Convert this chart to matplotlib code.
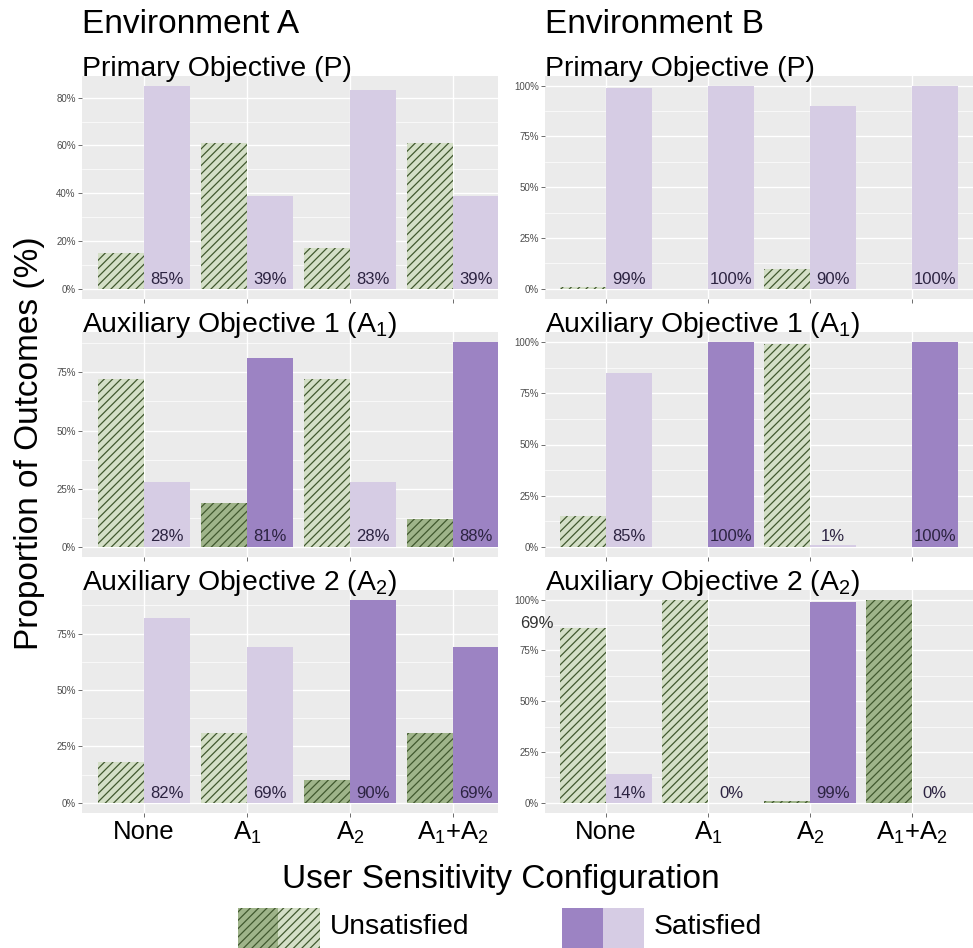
import matplotlib
matplotlib.use("Agg")
import matplotlib.pyplot as plt
from matplotlib.ticker import MultipleLocator, FuncFormatter
from matplotlib.patches import Rectangle

plt.rcParams['font.family'] = ['Liberation Sans', 'DejaVu Sans']
plt.rcParams['mathtext.default'] = 'regular'
plt.rcParams['hatch.linewidth'] = 0.9

# ---------------- data ----------------
configs = ['None', 'A1', 'A2', 'A1+A2']
config_labels = ['None', 'A$_1$', 'A$_2$', 'A$_1$+A$_2$']
objectives = ['P', 'A1', 'A2']
objective_titles = ['Primary Objective (P)', 'Auxiliary Objective 1 (A$_1$)',
                    'Auxiliary Objective 2 (A$_2$)']
environments = ['Environment A', 'Environment B']

envA_P_unsat = [15, 61, 17, 61]
envA_P_sat = [85, 39, 83, 39]
envA_A1_unsat = [72, 19, 72, 12]
envA_A1_sat = [28, 81, 28, 88]
envA_A2_unsat = [18, 31, 10, 31]
envA_A2_sat = [82, 69, 90, 69]

envB_P_unsat = [1, 0, 10, 0]
envB_P_sat = [99, 100, 90, 100]
envB_A1_unsat = [15, 0, 99, 0]
envB_A1_sat = [85, 100, 1, 100]
envB_A2_unsat = [86, 100, 1, 100]
envB_A2_sat = [14, 0, 99, 0]

legend_labels = ['Unsatisfied', 'Satisfied']
stray_label = '69%'

panels = {
    ('Environment A', 'P'): (envA_P_unsat, envA_P_sat),
    ('Environment A', 'A1'): (envA_A1_unsat, envA_A1_sat),
    ('Environment A', 'A2'): (envA_A2_unsat, envA_A2_sat),
    ('Environment B', 'P'): (envB_P_unsat, envB_P_sat),
    ('Environment B', 'A1'): (envB_A1_unsat, envB_A1_sat),
    ('Environment B', 'A2'): (envB_A2_unsat, envB_A2_sat),
}

# ---------------- style ----------------
GREEN_LIGHT = '#d4dfc7'
GREEN_DARK = '#9fb48a'
HATCH_COL = '#41592f'
PURPLE_LIGHT = '#d6cce4'
PURPLE_DARK = '#9c83c3'
LABEL_COL = '#2c2341'
PANEL_BG = '#ebebeb'
HATCH = '////'

W, H = 973, 948
fig = plt.figure(figsize=(W / 100, H / 100), dpi=100)

cols_px = [(82, 498, (0.398, 4.437)), (545, 973, (0.4, 4.6))]
rows_px = [(75.5, 299), (332, 557), (589.5, 813)]


def rect(x0, x1, y0, y1):
    return [x0 / W, 1 - y1 / H, (x1 - x0) / W, (y1 - y0) / H]


bw = 0.45
for ci, env in enumerate(environments):
    x0, x1, xl = cols_px[ci]
    for ri, obj in enumerate(objectives):
        y0, y1 = rows_px[ri]
        ax = fig.add_axes(rect(x0, x1, y0, y1))
        ax.set_facecolor(PANEL_BG)
        unsat, sat = panels[(env, obj)]
        m = max(max(unsat), max(sat))
        ax.set_ylim(-0.05 * m, 1.05 * m)
        ax.set_xlim(*xl)
        step = 20 if m < 86 else 25
        ax.yaxis.set_major_locator(MultipleLocator(step))
        ax.yaxis.set_minor_locator(MultipleLocator(step / 2))
        ax.yaxis.set_major_formatter(FuncFormatter(lambda v, p: f"{v:.0f}%"))
        ax.grid(which='major', axis='both', color='white', lw=1.0)
        ax.grid(which='minor', axis='y', color='white', lw=0.5)
        ax.set_axisbelow(True)
        for s in ax.spines.values():
            s.set_visible(False)
        xs = list(range(1, len(configs) + 1))
        for i, cfg in enumerate(configs):
            dark = obj in cfg.split('+')
            ax.bar(xs[i] - bw / 2, unsat[i], width=bw,
                   color=GREEN_DARK if dark else GREEN_LIGHT,
                   edgecolor=HATCH_COL, lw=0, hatch=HATCH)
            ax.bar(xs[i] + bw / 2, sat[i], width=bw,
                   color=PURPLE_DARK if dark else PURPLE_LIGHT, lw=0)
            ax.text(xs[i] + bw / 2, 0.026 * m, f"{sat[i]:.0f}%", ha='center',
                    va='baseline', fontsize=12, color=LABEL_COL)
        ax.set_xticks(xs)
        if ri == len(objectives) - 1:
            ax.set_xticklabels(config_labels, fontsize=18.5)
        else:
            ax.set_xticklabels([])
        ax.tick_params(axis='y', labelsize=7, labelcolor='#4d4d4d', length=3,
                       width=0.5, color='#333333', pad=1.5)
        ax.tick_params(axis='x', length=3, width=0.5, color='#333333', pad=2)
        ax.tick_params(which='minor', length=0)
        ax.text(0.0, 1.0, objective_titles[ri], transform=ax.transAxes,
                ha='left', va='baseline', fontsize=20.4)
    fig.text((x0 + 0) / W, 1 - 33 / H, env, ha='left', va='baseline', fontsize=24)

# stray label that appears in the reference
fig.text(537 / W, 1 - 628 / H, stray_label, ha='center', va='baseline', fontsize=12,
         color='#333333')

fig.text(30 / W, 1 - 443 / H, 'Proportion of Outcomes (%)', rotation=90,
         ha='center', va='center', fontsize=24)
fig.text(501 / W, 1 - 888 / H, 'User Sensitivity Configuration', ha='center',
         va='baseline', fontsize=24)

# legend
lax = fig.add_axes([0, 0, 1, 1])
lax.set_xlim(0, W)
lax.set_ylim(H, 0)
lax.axis('off')
sw_top = 908
lax.add_patch(Rectangle((238, sw_top), 40, 45, facecolor=GREEN_DARK, edgecolor=HATCH_COL,
                        lw=0, hatch=HATCH))
lax.add_patch(Rectangle((278, sw_top), 42, 45, facecolor=GREEN_LIGHT, edgecolor=HATCH_COL,
                        lw=0, hatch=HATCH))
lax.add_patch(Rectangle((562, sw_top), 41, 45, facecolor=PURPLE_DARK, lw=0))
lax.add_patch(Rectangle((603, sw_top), 41, 45, facecolor=PURPLE_LIGHT, lw=0))
lax.text(330, 927, legend_labels[0], ha='left', va='center', fontsize=20.3)
lax.text(654, 927, legend_labels[1], ha='left', va='center', fontsize=20.3)

fig.savefig('out.png', dpi=100)
